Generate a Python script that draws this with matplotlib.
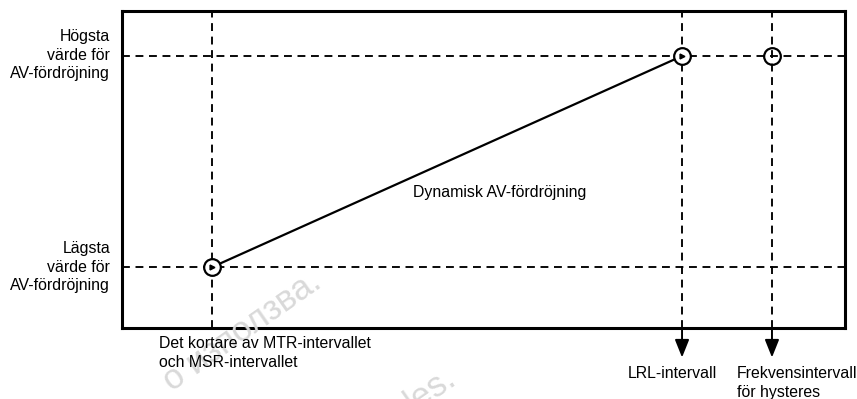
import matplotlib
matplotlib.use("Agg")
import matplotlib.pyplot as plt

plt.rcParams['font.family'] = ['Liberation Sans', 'DejaVu Sans']

# x positions (percent of the box width) of the interval guides
interval_names = ["Det kortare av MTR-intervallet\noch MSR-intervallet",
                  "LRL-intervall",
                  "Frekvensintervall\nför hysteres"]
interval_x = [12.45, 77.46, 89.9]

# y positions (percent of the box height) of the AV delay guides
delay_names = ["Lägsta\nvärde för\nAV-fördröjning",
               "Högsta\nvärde för\nAV-fördröjning"]
delay_y = [19.2, 85.8]

# dynamic AV delay line: from (shortest interval, min delay) to (LRL, max delay)
dynamic_x = [interval_x[0], interval_x[1]]
dynamic_y = [delay_y[0], delay_y[1]]
dynamic_label = "Dynamisk AV-fördröjning"

# circle markers
marker_x = [interval_x[0], interval_x[1], interval_x[2]]
marker_y = [delay_y[0], delay_y[1], delay_y[1]]

# visible parts of the faint watermark
watermark = ["о използва.", "les."]

W, H = 857, 399
fig = plt.figure(figsize=(W / 100, H / 100), dpi=100)
ax = fig.add_axes([122 / W, 1 - 328 / H, 723 / W, 317 / H])
ax.set_xlim(0, 100)
ax.set_ylim(0, 100)
ax.set_xticks([])
ax.set_yticks([])
for s in ax.spines.values():
    s.set_linewidth(2.2)

dash = (0, (4.2, 3.0))
for y in delay_y:
    ax.axhline(y, color='black', lw=1.35, linestyle=dash, zorder=1)
for x in interval_x:
    ax.axvline(x, color='black', lw=1.35, linestyle=dash, zorder=1)

ax.plot(dynamic_x, dynamic_y, color='black', lw=1.6, zorder=2)

# circles: first two have a white face and a tiny arrowhead inside
for i, (x, y) in enumerate(zip(marker_x, marker_y)):
    face = 'white' if i < 2 else 'none'
    ax.plot(x, y, marker='o', ms=12, mfc=face, mec='black', mew=1.6, zorder=3)
    if i < 2:
        ax.plot(x, y, marker='>', ms=3.5, color='black', zorder=4)

# arrows below the box for LRL and hysteresis intervals
for x in interval_x[1:]:
    ax.annotate('', xy=(x, -9.3), xytext=(x, 0), xycoords='data',
                annotation_clip=False,
                arrowprops=dict(arrowstyle='-|>,head_length=0.6,head_width=0.24',
                                color='black', lw=1.4,
                                mutation_scale=18, shrinkA=0, shrinkB=0))

fs = 11.4
ls = 1.33
def px(x, y):
    return x / W, 1 - y / H

fig.text(*px(110, 55), delay_names[1], ha='right', va='center', fontsize=fs,
         linespacing=ls)
fig.text(*px(110, 267), delay_names[0], ha='right', va='center', fontsize=fs,
         linespacing=ls)
fig.text(*px(159, 353), interval_names[0], ha='left', va='center', fontsize=fs,
         linespacing=ls)
fig.text(*px(628, 374), interval_names[1], ha='left', va='center', fontsize=fs)
fig.text(*px(737, 383), interval_names[2], ha='left', va='center', fontsize=fs,
         linespacing=ls)
fig.text(*px(413, 193), dynamic_label, ha='left', va='center', fontsize=fs)

# faint watermark
fig.text(*px(323, 286), watermark[0], ha='right', va='baseline', rotation=35,
         rotation_mode='anchor', fontsize=25, color='#d9d9d9', zorder=0)
fig.text(*px(458, 382), watermark[1], ha='right', va='baseline', rotation=35,
         rotation_mode='anchor', fontsize=25, color='#d9d9d9', zorder=0)

fig.savefig("out.png", dpi=100)
